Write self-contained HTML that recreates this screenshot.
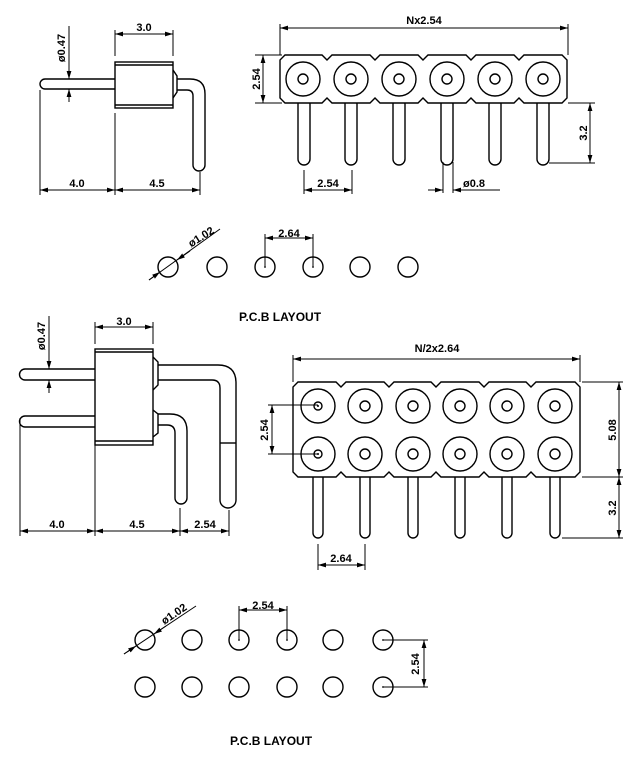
<!DOCTYPE html>
<html><head><meta charset="utf-8"><style>
html,body{margin:0;padding:0;background:#fff;}
svg{display:block;}
text{font-family:"Liberation Sans",sans-serif;font-weight:bold;font-size:11px;fill:#000;}
</style></head><body>
<svg width="640" height="768" viewBox="0 0 640 768" xmlns="http://www.w3.org/2000/svg">
<defs>
<marker id="a" viewBox="0 0 10 6" refX="10" refY="3" markerWidth="8" markerHeight="5" orient="auto-start-reverse"><path d="M0,0 L10,3 L0,6 z" fill="#000"/></marker>
</defs>
<g fill="none" stroke="#000" stroke-width="1.4">

<path d="M115,79 L45,79 A5,5 0 0 0 45,89 L115,89"/>
<path d="M173,70 L177,76 L177,92 L173,98"/>
<path d="M177,79 L190,79 Q205,79 205,94 L205,165 A6,6 0 0 1 193,165 L193,96 Q193,90 187,90 L177,90"/>
<rect x="115" y="62" width="58" height="46" fill="#fff"/>
<line x1="115" y1="65" x2="173" y2="65"/>
<line x1="115" y1="105" x2="173" y2="105"/>
<line x1="115" y1="30" x2="115" y2="56" stroke-width="1"/>
<line x1="173" y1="30" x2="173" y2="56" stroke-width="1"/>
<line x1="115" y1="34" x2="173" y2="34" stroke-width="1" marker-start="url(#a)" marker-end="url(#a)"/>
<line x1="69" y1="26" x2="69" y2="79" stroke-width="1" marker-end="url(#a)"/>
<line x1="69" y1="102" x2="69" y2="89" stroke-width="1" marker-end="url(#a)"/>
<line x1="40" y1="90" x2="40" y2="195" stroke-width="1"/>
<line x1="115" y1="113" x2="115" y2="195" stroke-width="1"/>
<line x1="200" y1="172" x2="200" y2="195" stroke-width="1"/>
<line x1="40" y1="190" x2="115" y2="190" stroke-width="1" marker-start="url(#a)" marker-end="url(#a)"/>
<line x1="115" y1="190" x2="200" y2="190" stroke-width="1" marker-start="url(#a)" marker-end="url(#a)"/>

<g>
<rect x="298" y="98" width="12" height="67" rx="6"/>
<rect x="345" y="98" width="12" height="67" rx="6"/>
<rect x="393" y="98" width="12" height="67" rx="6"/>
<rect x="441" y="98" width="12" height="67" rx="6"/>
<rect x="489" y="98" width="12" height="67" rx="6"/>
<rect x="537" y="98" width="12" height="67" rx="6"/>
</g>
<path fill="#fff" d="M285,55 L322,55 L327,60 L332,55 L370,55 L375,60 L380,55 L418,55 L423,60 L428,55 L466,55 L471,60 L476,55 L514,55 L519,60 L524,55 L562,55 L567,60 L567,98 L562,103 L524,103 L519,98 L514,103 L476,103 L471,98 L466,103 L428,103 L423,98 L418,103 L380,103 L375,98 L370,103 L332,103 L327,98 L322,103 L285,103 L280,98 L280,60 Z"/>
<g>
<circle cx="303" cy="79" r="17"/><circle cx="303" cy="79" r="5"/>
<circle cx="351" cy="79" r="17"/><circle cx="351" cy="79" r="5"/>
<circle cx="399" cy="79" r="17"/><circle cx="399" cy="79" r="5"/>
<circle cx="447" cy="79" r="17"/><circle cx="447" cy="79" r="5"/>
<circle cx="495" cy="79" r="17"/><circle cx="495" cy="79" r="5"/>
<circle cx="543" cy="79" r="17"/><circle cx="543" cy="79" r="5"/>
</g>
<g stroke-width="1">
<line x1="280" y1="24" x2="280" y2="55"/>
<line x1="568" y1="24" x2="568" y2="55"/>
<line x1="280" y1="28" x2="568" y2="28" marker-start="url(#a)" marker-end="url(#a)"/>
<line x1="255" y1="55" x2="282" y2="55"/>
<line x1="255" y1="103" x2="282" y2="103"/>
<line x1="263" y1="55" x2="263" y2="103" marker-start="url(#a)" marker-end="url(#a)"/>
<line x1="568" y1="103" x2="595" y2="103"/>
<line x1="549" y1="163" x2="595" y2="163"/>
<line x1="590" y1="103" x2="590" y2="163" marker-start="url(#a)" marker-end="url(#a)"/>
<line x1="304" y1="170" x2="304" y2="194"/>
<line x1="352" y1="170" x2="352" y2="194"/>
<line x1="304" y1="190" x2="352" y2="190" marker-start="url(#a)" marker-end="url(#a)"/>
<line x1="443" y1="162" x2="443" y2="193"/>
<line x1="453" y1="162" x2="453" y2="193"/>
<line x1="428" y1="190" x2="443" y2="190" marker-end="url(#a)"/>
<line x1="500" y1="190" x2="453" y2="190" marker-end="url(#a)"/>
</g>

<g>
<circle cx="168" cy="267" r="10"/><circle cx="217" cy="267" r="10"/>
<circle cx="265" cy="267" r="10"/><circle cx="313" cy="267" r="10"/>
<circle cx="360" cy="267" r="10"/><circle cx="408" cy="267" r="10"/>
</g>
<g stroke-width="1">
<line x1="265" y1="234" x2="265" y2="267"/>
<line x1="313" y1="234" x2="313" y2="267"/>
<line x1="265" y1="238" x2="313" y2="238" marker-start="url(#a)" marker-end="url(#a)"/>
<line x1="149" y1="280" x2="220" y2="229"/>
<line x1="149" y1="280" x2="160" y2="272" marker-end="url(#a)"/>
<line x1="190" y1="251" x2="177" y2="260" marker-end="url(#a)"/>
</g>

<path d="M95,369 L25,369 A5.5,5.5 0 0 0 25,380 L95,380"/>
<path d="M95,416 L25,416 A5.5,5.5 0 0 0 25,427 L95,427"/>
<path d="M153,357 L158,362 L158,385 L153,390"/>
<path d="M153,410 L158,414 L158,433 L153,437"/>
<path d="M158,365 L218,365 Q236,365 236,383 L236,500 A8,8 0 0 1 220,500 L220,388 Q220,380 212,380 L158,380"/>
<line x1="220" y1="443" x2="236" y2="443"/>
<path d="M158,414 L170,414 Q187,414 187,431 L187,498 A6,6 0 0 1 175,498 L175,433 Q175,425 167,425 L158,425"/>
<rect x="95" y="349" width="58" height="96" fill="#fff"/>
<line x1="95" y1="352" x2="153" y2="352"/>
<line x1="95" y1="441" x2="153" y2="441"/>
<g stroke-width="1">
<line x1="95" y1="322" x2="95" y2="344"/>
<line x1="153" y1="322" x2="153" y2="344"/>
<line x1="95" y1="327" x2="153" y2="327" marker-start="url(#a)" marker-end="url(#a)"/>
<line x1="49" y1="316" x2="49" y2="369" marker-end="url(#a)"/>
<line x1="49" y1="393" x2="49" y2="380" marker-end="url(#a)"/>
<line x1="20" y1="418" x2="20" y2="536"/>
<line x1="95" y1="441" x2="95" y2="536"/>
<line x1="180" y1="508" x2="180" y2="536"/>
<line x1="229" y1="510" x2="229" y2="536"/>
<line x1="20" y1="531" x2="95" y2="531" marker-start="url(#a)" marker-end="url(#a)"/>
<line x1="95" y1="531" x2="180" y2="531" marker-start="url(#a)" marker-end="url(#a)"/>
<line x1="180" y1="531" x2="229" y2="531" marker-start="url(#a)" marker-end="url(#a)"/>
</g>

<g>
<rect x="313" y="470" width="10" height="68" rx="5"/>
<rect x="360" y="470" width="10" height="68" rx="5"/>
<rect x="408" y="470" width="10" height="68" rx="5"/>
<rect x="455" y="470" width="10" height="68" rx="5"/>
<rect x="502" y="470" width="10" height="68" rx="5"/>
<rect x="550" y="470" width="10" height="68" rx="5"/>
</g>
<path fill="#fff" d="M298,382 L336,382 L341,387 L346,382 L384,382 L389,387 L394,382 L431,382 L436,387 L441,382 L479,382 L484,387 L489,382 L526,382 L531,387 L536,382 L575,382 L580,387 L580,472 L575,477 L536,477 L531,472 L526,477 L489,477 L484,472 L479,477 L441,477 L436,472 L431,477 L394,477 L389,472 L384,477 L346,477 L341,472 L336,477 L298,477 L293,472 L293,387 Z"/>
<g>
<circle cx="318" cy="406" r="17"/><circle cx="318" cy="406" r="4"/>
<circle cx="365" cy="406" r="17"/><circle cx="365" cy="406" r="5"/>
<circle cx="413" cy="406" r="17"/><circle cx="413" cy="406" r="5"/>
<circle cx="460" cy="406" r="17"/><circle cx="460" cy="406" r="5"/>
<circle cx="507" cy="406" r="17"/><circle cx="507" cy="406" r="5"/>
<circle cx="555" cy="406" r="17"/><circle cx="555" cy="406" r="5"/>
<circle cx="318" cy="454" r="17"/><circle cx="318" cy="454" r="4"/>
<circle cx="365" cy="454" r="17"/><circle cx="365" cy="454" r="5"/>
<circle cx="413" cy="454" r="17"/><circle cx="413" cy="454" r="5"/>
<circle cx="460" cy="454" r="17"/><circle cx="460" cy="454" r="5"/>
<circle cx="507" cy="454" r="17"/><circle cx="507" cy="454" r="5"/>
<circle cx="555" cy="454" r="17"/><circle cx="555" cy="454" r="5"/>
</g>
<g stroke-width="1">
<line x1="293" y1="355" x2="293" y2="382"/>
<line x1="580" y1="355" x2="580" y2="382"/>
<line x1="293" y1="359" x2="580" y2="359" marker-start="url(#a)" marker-end="url(#a)"/>
<line x1="268" y1="405" x2="318" y2="405"/>
<line x1="268" y1="454" x2="318" y2="454"/>
<line x1="272" y1="405" x2="272" y2="454" marker-start="url(#a)" marker-end="url(#a)"/>
<line x1="582" y1="382" x2="623" y2="382"/>
<line x1="582" y1="477" x2="623" y2="477"/>
<line x1="562" y1="538" x2="623" y2="538"/>
<line x1="619" y1="382" x2="619" y2="477" marker-start="url(#a)" marker-end="url(#a)"/>
<line x1="619" y1="477" x2="619" y2="538" marker-start="url(#a)" marker-end="url(#a)"/>
<line x1="318" y1="544" x2="318" y2="570"/>
<line x1="365" y1="544" x2="365" y2="570"/>
<line x1="318" y1="565" x2="365" y2="565" marker-start="url(#a)" marker-end="url(#a)"/>
</g>

<g>
<circle cx="145" cy="640" r="10"/><circle cx="192" cy="640" r="10"/>
<circle cx="239" cy="640" r="10"/><circle cx="287" cy="640" r="10"/>
<circle cx="333" cy="640" r="10"/><circle cx="383" cy="640" r="10"/>
<circle cx="145" cy="687" r="10"/><circle cx="192" cy="687" r="10"/>
<circle cx="239" cy="687" r="10"/><circle cx="287" cy="687" r="10"/>
<circle cx="333" cy="687" r="10"/><circle cx="383" cy="687" r="10"/>
</g>
<g stroke-width="1">
<line x1="239" y1="606" x2="239" y2="640"/>
<line x1="287" y1="606" x2="287" y2="640"/>
<line x1="239" y1="610" x2="287" y2="610" marker-start="url(#a)" marker-end="url(#a)"/>
<line x1="383" y1="640" x2="428" y2="640"/>
<line x1="383" y1="687" x2="428" y2="687"/>
<line x1="424" y1="640" x2="424" y2="687" marker-start="url(#a)" marker-end="url(#a)"/>
<line x1="124" y1="654" x2="196" y2="606"/>
<line x1="124" y1="654" x2="136" y2="646" marker-end="url(#a)"/>
<line x1="166" y1="626" x2="154" y2="634" marker-end="url(#a)"/>
</g>
</g>

<g fill="#000">
<circle cx="265" cy="267" r="0.9"/><circle cx="313" cy="267" r="0.9"/>
<circle cx="318" cy="406" r="1"/><circle cx="318" cy="454" r="1"/>
<circle cx="239" cy="640" r="0.9"/><circle cx="287" cy="640" r="0.9"/>
<circle cx="383" cy="640" r="0.9"/><circle cx="383" cy="687" r="0.9"/>
</g>

<text x="144" y="31" text-anchor="middle">3.0</text>
<text transform="translate(65,48) rotate(-90)" text-anchor="middle">ø0.47</text>
<text x="77" y="187" text-anchor="middle">4.0</text>
<text x="157" y="187" text-anchor="middle">4.5</text>
<text x="424" y="24" text-anchor="middle">Nx2.54</text>
<text transform="translate(260,79) rotate(-90)" text-anchor="middle">2.54</text>
<text transform="translate(587,133) rotate(-90)" text-anchor="middle">3.2</text>
<text x="328" y="187" text-anchor="middle">2.54</text>
<text x="474" y="187" text-anchor="middle">ø0.8</text>
<text transform="translate(203,240) rotate(-32)" text-anchor="middle">ø1.02</text>
<text x="289" y="237" text-anchor="middle">2.64</text>
<text x="239" y="321" style="font-size:12px">P.C.B LAYOUT</text>
<text x="124" y="325" text-anchor="middle">3.0</text>
<text transform="translate(45,336) rotate(-90)" text-anchor="middle">ø0.47</text>
<text x="57" y="528" text-anchor="middle">4.0</text>
<text x="137" y="528" text-anchor="middle">4.5</text>
<text x="205" y="528" text-anchor="middle">2.54</text>
<text x="437" y="352" text-anchor="middle">N/2x2.64</text>
<text transform="translate(268,430) rotate(-90)" text-anchor="middle">2.54</text>
<text transform="translate(616,430) rotate(-90)" text-anchor="middle">5.08</text>
<text transform="translate(616,508) rotate(-90)" text-anchor="middle">3.2</text>
<text x="341" y="562" text-anchor="middle">2.64</text>
<text x="263" y="609" text-anchor="middle">2.54</text>
<text transform="translate(419,664) rotate(-90)" text-anchor="middle">2.54</text>
<text transform="translate(176,617) rotate(-34)" text-anchor="middle">ø1.02</text>
<text x="230" y="745" style="font-size:12px">P.C.B LAYOUT</text>
</svg>
</body></html>
